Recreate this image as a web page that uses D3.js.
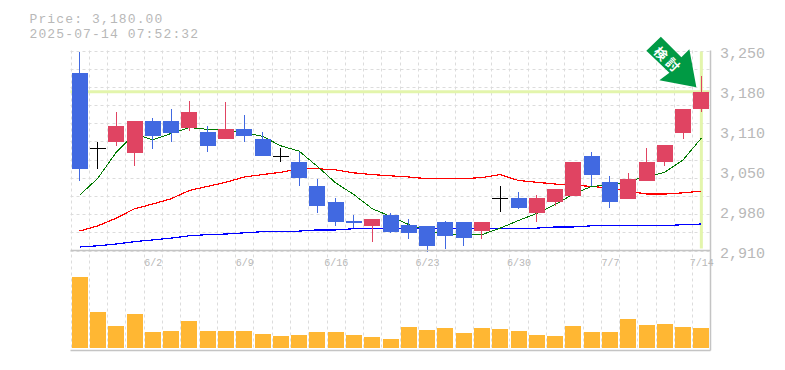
<!DOCTYPE html>
<html>
<head>
<meta charset="utf-8">
<script src="https://cdn.jsdelivr.net/npm/d3@7"></script>
<style>
  html, body { margin: 0; padding: 0; background: #fff; }
  svg { display: block; }
  text { font-family: "Liberation Mono", monospace; fill: #b8b8b8; }
</style>
</head>
<body>
<div id="chart"></div>
<script>
const days = ['5/27','5/28','5/29','5/30','6/2','6/3','6/4','6/5','6/6','6/9','6/10','6/11','6/12','6/13','6/16','6/17','6/18','6/19','6/20','6/23','6/24','6/25','6/26','6/27','6/30','7/1','7/2','7/3','7/4','7/7','7/8','7/9','7/10','7/11','7/14'];
const dateTicks = ['6/2','6/9','6/16','6/23','6/30','7/7','7/14'];
const priceTicks = [3250, 3182, 3114, 3046, 2978, 2910];

const opens  = [3211,3084,3094,3075,3131,3131,3119,3111,3099,3116,3100,3071,3061,3020,2993,2961,2951,2971,2954,2951,2959,2958,2944,3000,3000,2973,2993,3003,3071,3026,2998,3029,3060,3109,3150];
const highs  = [3247,3095,3146,3131,3136,3151,3165,3121,3162,3141,3111,3085,3077,3031,3000,2971,2964,2973,2963,2951,2961,2958,2958,3020,3010,3005,3015,3061,3077,3036,3041,3085,3090,3151,3206];
const lows   = [3029,3049,3088,3054,3083,3094,3114,3078,3099,3094,3070,3060,3019,2973,2952,2949,2925,2939,2930,2908,2913,2918,2930,2976,2980,2959,2986,3003,3019,2983,2998,3029,3054,3099,3145];
const closes = [3049,3084,3121,3131,3104,3109,3146,3088,3116,3104,3070,3071,3034,2985,2959,2956,2964,2941,2939,2918,2935,2932,2958,3000,2983,3000,3015,3061,3039,2992,3031,3061,3090,3151,3180];

const ma5  = [3004,3033,3077,3108,3098,3109,3119,3116,3114,3111,3104,3088,3079,3053,3025,3005,2981,2968,2954,2944,2938,2937,2937,2948,2961,2973,2988,3006,3019,3021,3028,3035,3043,3064,3101];
const ma25 = [2943,2952,2965,2981,2989,2998,3012,3019,3026,3035,3039,3043,3049,3049,3047,3042,3039,3037,3035,3032,3032,3032,3034,3039,3029,3026,3023,3021,3019,3016,3011,3006,3006,3008,3011];
const ma75 = [2916,2918,2921,2925,2928,2931,2935,2937,2938,2940,2942,2942,2943,2945,2945,2947,2947,2947,2948,2948,2948,2948,2948,2948,2948,2948,2950,2950,2952,2952,2952,2952,2952,2954,2955];
const volumes = [71,36,22,34,16,17,27,17,17,17,14,12,13,16,16,13,11,9,21,18,20,15,20,19,17,13,12,22,16,16,29,23,24,21,20];

const currentPrice = 3180;
const headerLines = ['Price: 3,180.00', '2025-07-14 07:52:32'];
const arrowLabel = '検討';

const UP_COLOR = '#e04462';
const DOWN_COLOR = '#4169e1';
const DOJI_COLOR = '#000';
const MARKER_COLOR = '#e3f5ac';
const AXIS_COLOR = '#c4c4c4';
const GRID_COLOR = '#dcdcdc';

const width = 785;
const height = 370;
const left = 70.5;
const right = 710.5;
const priceTop = 50.5;
const priceBottom = 250.5;
const volumeBottom = 350.5;

const svg = d3.select('#chart').append('svg').attr('width', width).attr('height', height);

const x = d3.scaleBand().domain(days).range([left, right]);
const y = d3.scaleLinear().domain([2910, 3250]).range([priceBottom, priceTop]);
const yVol = d3.scaleLinear().domain([0, 98]).range([volumeBottom - 2.5, priceBottom]);
const cx = (d) => x(d) + x.bandwidth() / 2;
const bodyW = 16;

// grid
const gridStops = d3.range(0, 12).map((i) => 2910 + (340 * i) / 11);
svg.append('g').selectAll('line').data(gridStops).enter().append('line')
  .attr('x1', left).attr('x2', right)
  .attr('y1', (d) => Math.round(y(d)) + 0.5).attr('y2', (d) => Math.round(y(d)) + 0.5)
  .attr('stroke', GRID_COLOR).attr('stroke-dasharray', '3,3');
svg.append('g').selectAll('line').data(days).enter().append('line')
  .attr('x1', (d) => Math.round(x(d)) + 0.5).attr('x2', (d) => Math.round(x(d)) + 0.5)
  .attr('y1', priceTop).attr('y2', volumeBottom)
  .attr('stroke', GRID_COLOR).attr('stroke-dasharray', '3,3');

// current price marker, behind the candles
svg.append('line')
  .attr('x1', left).attr('x2', right - 1)
  .attr('y1', y(currentPrice)).attr('y2', y(currentPrice))
  .attr('stroke', MARKER_COLOR).attr('stroke-width', 3);
svg.append('line')
  .attr('x1', cx(days[days.length - 1])).attr('x2', cx(days[days.length - 1]))
  .attr('y1', priceTop + 1).attr('y2', priceBottom - 2)
  .attr('stroke', MARKER_COLOR).attr('stroke-width', 3);

// moving averages
const maLine = d3.line().x((_, i) => cx(days[i])).y((d) => y(d));
[[ma75, '#0000ff', 1.2], [ma25, '#ff0000', 1.2], [ma5, '#007a00', 1]].forEach(([values, color, w]) => {
  svg.append('path').datum(values)
    .attr('fill', 'none').attr('stroke', color).attr('stroke-width', w)
    .attr('shape-rendering', 'crispEdges')
    .attr('d', maLine);
});

// candles
const candles = svg.append('g').selectAll('g').data(days).enter().append('g')
  .attr('shape-rendering', 'crispEdges');
const candleColor = (i) => (closes[i] > opens[i] ? UP_COLOR : closes[i] < opens[i] ? DOWN_COLOR : DOJI_COLOR);
candles.append('line')
  .attr('x1', (d) => cx(d)).attr('x2', (d) => cx(d))
  .attr('y1', (_, i) => y(highs[i])).attr('y2', (_, i) => y(lows[i]))
  .attr('stroke', (_, i) => candleColor(i)).attr('stroke-width', 1);
candles.append('rect')
  .attr('x', (d) => cx(d) - bodyW / 2)
  .attr('y', (_, i) => y(Math.max(opens[i], closes[i])))
  .attr('width', bodyW)
  .attr('height', (_, i) => Math.max(1, Math.abs(y(opens[i]) - y(closes[i]))))
  .attr('fill', (_, i) => candleColor(i));

// volume
svg.append('g').selectAll('rect').data(volumes).enter().append('rect')
  .attr('x', (_, i) => cx(days[i]) - bodyW / 2)
  .attr('y', (d) => yVol(d))
  .attr('width', bodyW)
  .attr('height', (d) => yVol(0) - yVol(d))
  .attr('fill', '#ffb733')
  .attr('shape-rendering', 'crispEdges');

// frame
const frame = svg.append('g').attr('stroke', AXIS_COLOR).attr('stroke-width', 1.5);
frame.append('line').attr('x1', left).attr('x2', right).attr('y1', priceBottom).attr('y2', priceBottom);
frame.append('line').attr('x1', left).attr('x2', right).attr('y1', volumeBottom).attr('y2', volumeBottom);
frame.append('line').attr('x1', right).attr('x2', right).attr('y1', priceTop).attr('y2', volumeBottom);

// labels
svg.append('g').selectAll('text').data(priceTicks).enter().append('text')
  .attr('x', right + 9.5)
  .attr('y', (d) => y(d) + 7)
  .attr('font-size', 15)
  .text((d) => d3.format(',')(Math.round(d / 10) * 10));
svg.append('g').selectAll('text').data(dateTicks).enter().append('text')
  .attr('x', (d) => cx(d) + 0.5)
  .attr('y', priceBottom + 15)
  .attr('text-anchor', 'middle')
  .attr('font-size', 10)
  .text((d) => d);
// smaller size plus spacing keeps the line width but stops the two boxes touching
svg.append('g').selectAll('text').data(headerLines).enter().append('text')
  .attr('x', 29.5)
  .attr('y', (_, i) => 23 + i * 15)
  .attr('font-size', 13)
  .attr('letter-spacing', 1.13)
  .text((d) => d);

// signal arrow, placed relative to the last candle
const tipX = cx(days[days.length - 1]) - 5;
const tipY = y(currentPrice) - 4.5;
const arrowOffsets = [[0, 0], [-37, -7], [-27, -14.5], [-50, -36.5], [-35.5, -50.5], [-15, -30], [-7, -38]];
const arrow = svg.append('g').attr('transform', `translate(${tipX},${tipY})`);
arrow.append('path')
  .attr('d', d3.line()(arrowOffsets) + 'Z')
  .attr('fill', '#009a44');
arrow.selectAll('text').data(Array.from(arrowLabel)).enter().append('text')
  .attr('transform', (_, i) => `translate(${-35 + i * 12},${-34 + i * 11}) rotate(45)`)
  .attr('text-anchor', 'middle')
  .attr('dominant-baseline', 'central')
  .attr('font-size', 13)
  .attr('font-weight', 700)
  .style('font-family', '"Noto Sans CJK JP"')
  .style('fill', '#fff')
  .text((d) => d);
</script>
</body>
</html>
